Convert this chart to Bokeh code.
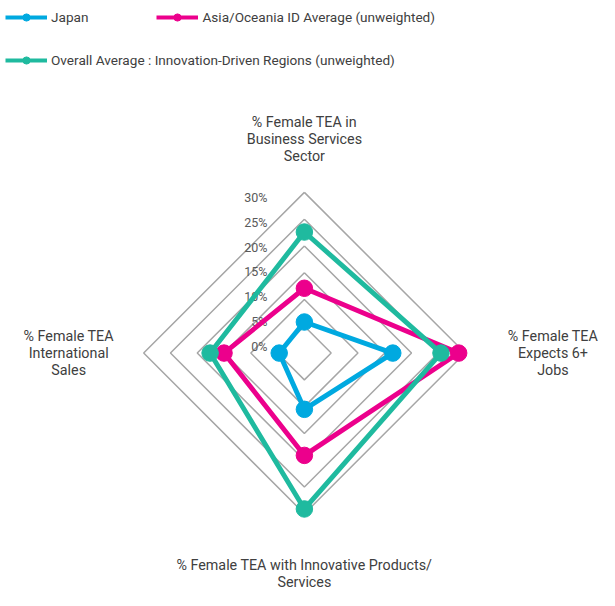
import math
from bokeh.plotting import figure
from bokeh.models import Legend, LegendItem, ColumnDataSource, Range1d
from bokeh.core.properties import value
from bokeh.embed import file_html
from bokeh.resources import INLINE

# ---- data ----
categories = [
    "% Female TEA in\nBusiness Services\nSector",
    "% Female TEA\nExpects 6+\nJobs",
    "% Female TEA with Innovative Products/\nServices",
    "% Female TEA\nInternational\nSales",
]
series_names = [
    "Japan",
    "Asia/Oceania ID Average (unweighted)",
    "Overall Average : Innovation-Driven Regions (unweighted)",
]
japan = [5.8, 16.5, 10.5, 4.7]
asia_oceania = [12.1, 28.8, 19.1, 15.0]
overall = [22.6, 25.5, 29.1, 17.6]
ring_values = [5, 10, 15, 20, 25, 30]
tick_values = [0, 5, 10, 15, 20, 25, 30]
tick_labels = ["0%", "5%", "10%", "15%", "20%", "25%", "30%"]

colors = ["#00A9E0", "#EC008C", "#1FBA9F"]
FONT = "Roboto"

W, H = 599, 590
S = W / 615.0               # scale reference -> figure
PX = 5.5 * S                # pixels per percentage point
CX, CY = 312 * S, 362 * S   # centre in screen px from top-left

p = figure(width=W, height=H, output_backend="svg", toolbar_location=None,
           min_border=0, x_range=Range1d(-CX / PX, (W - CX) / PX),
           y_range=Range1d(-(H - CY) / PX, CY / PX))
p.axis.visible = False
p.grid.visible = False
p.outline_line_color = None
p.background_fill_color = "white"

n = len(categories)
angles = [math.pi / 2 - i * 2 * math.pi / n for i in range(n)]

def poly(vals):
    xs = [v * math.cos(a) for v, a in zip(vals, angles)]
    ys = [v * math.sin(a) for v, a in zip(vals, angles)]
    return xs, ys

# rings
rx, ry = [], []
for r in ring_values:
    xs, ys = poly([r] * n)
    rx.append(xs + [xs[0]])
    ry.append(ys + [ys[0]])
p.multi_line(rx, ry, line_color="#A6A6A6", line_width=1.5)

# tick labels
p.text(x=[-6.9] * len(tick_values), y=[1.3 + 0.925 * v for v in tick_values], text=tick_labels,
       text_align="right", text_baseline="middle", text_font=value(FONT),
       text_font_size="12.5px", text_color="#595959")

# category labels
lab_r = [40, 46.4, 41.2, 44]
lx = [r * math.cos(a) for r, a in zip(lab_r, angles)]
ly = [r * math.sin(a) for r, a in zip(lab_r, angles)]
p.text(x=lx, y=ly, text=categories, text_align="center", text_baseline="middle",
       text_font=value(FONT), text_font_size="14.3px", text_color="#404040",
       text_line_height=1.07)

legend_items = []
for name, vals, c in zip(series_names, [japan, asia_oceania, overall], colors):
    xs, ys = poly(vals)
    p.line(xs + [xs[0]], ys + [ys[0]], line_color=c, line_width=4.9, line_join="round")
    p.scatter(xs, ys, size=16.5, fill_color=c, line_color=c)
    # legend-only glyphs (not drawn in the plot area)
    src = ColumnDataSource(dict(x=[float("nan")], y=[float("nan")]))
    lr = p.line("x", "y", source=src, line_color=c, line_width=4)
    sr = p.scatter("x", "y", source=src, size=12, fill_color=c, line_color=c)
    legend_items.append(LegendItem(label=name, renderers=[lr, sr]))

common = dict(orientation="horizontal", glyph_width=42, glyph_height=18, label_height=18,
              label_standoff=4, padding=0, margin=0, border_line_color=None,
              background_fill_alpha=0, label_text_font=FONT, label_text_font_size="13.6px",
              label_text_color="#404040")
leg1 = Legend(items=legend_items[:2], location=(5, H - 25.6), spacing=68, **common)
leg2 = Legend(items=legend_items[2:], location=(5, H - 69.4), **common)
p.add_layout(leg1)
p.add_layout(leg2)

open("out.html", "w").write(file_html(p, INLINE))
